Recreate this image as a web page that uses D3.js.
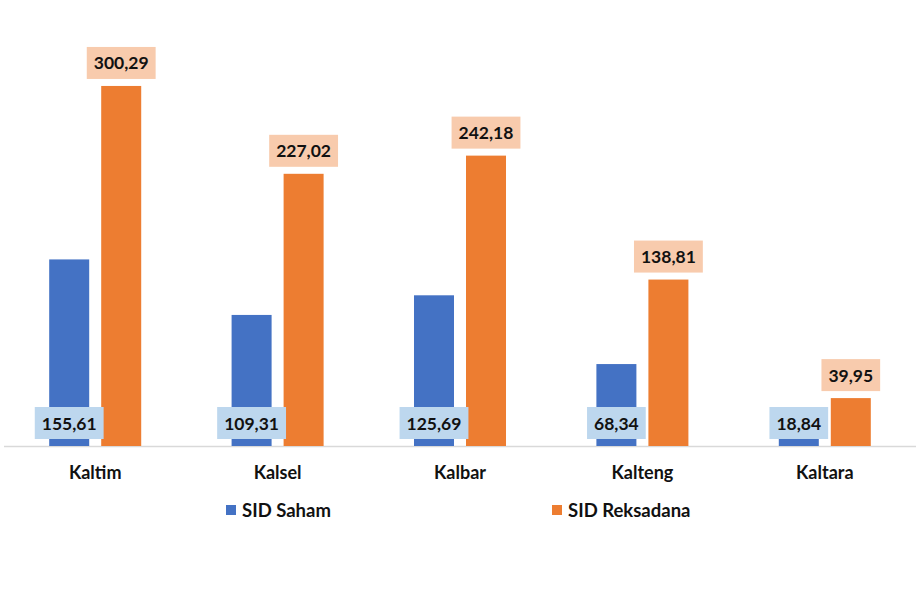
<!DOCTYPE html>
<html><head><meta charset="utf-8">
<script src="https://cdn.jsdelivr.net/npm/d3@7"></script>
<style>html,body{margin:0;padding:0;background:#fff;}svg{display:block;}</style>
</head><body>
<script>
const categories = ["Kaltim","Kalsel","Kalbar","Kalteng","Kaltara"];
const seriesNames = ["SID Saham","SID Reksadana"];
const sahamValues = [155.61,109.31,125.69,68.34,18.84];
const reksadanaValues = [300.29,227.02,242.18,138.81,39.95];
const valueLabels = [["155,61","109,31","125,69","68,34","18,84"],["300,29","227,02","242,18","138,81","39,95"]];
const colors = ["#4472C4","#ED7D31"];
const labelBg = ["#BDD7EE","#F8CBAD"];

const W=919,H=606;
const svg=d3.select("body").append("svg").attr("width",W).attr("height",H);
const font="Lato, 'Open Sans', sans-serif";
const x0=d3.scaleBand().domain(categories).range([4,916]);
const x1=d3.scaleBand().domain(seriesNames).range([0,x0.bandwidth()]).paddingInner(0.2308).paddingOuter(0.869);
const y=d3.scaleLinear().domain([0,350]).range([446,446-350*1.199]);
const series=[sahamValues,reksadanaValues];

// axis line
svg.append("line").attr("x1",x0.range()[0]).attr("x2",x0.range()[1]).attr("y1",y(0)+0.5).attr("y2",y(0)+0.5).attr("stroke","#d9d9d9").attr("stroke-width",1.5);

series.forEach((vals,si)=>{
  const g=svg.append("g");
  g.selectAll("rect").data(vals).join("rect")
    .attr("x",(d,i)=>x0(categories[i])+x1(seriesNames[si]))
    .attr("width",x1.bandwidth())
    .attr("y",d=>y(d)).attr("height",d=>y(0)-y(d))
    .attr("fill",colors[si]);
});

// labels
series.forEach((vals,si)=>{
  vals.forEach((v,i)=>{
    const cx=x0(categories[i])+x1(seriesNames[si])+x1.bandwidth()/2;
    const cy= si===0 ? y(0)-23 : y(v)-23;
    const t=svg.append("text").attr("x",cx).attr("y",cy).attr("text-anchor","middle").attr("dominant-baseline","central")
      .attr("font-family",font).attr("font-weight","bold").attr("font-size",17.5).attr("fill","#111").text(valueLabels[si][i]);
    const bb=t.node().getBBox();
    svg.insert("rect",()=>t.node()).attr("x",cx-(bb.width+14)/2).attr("y",cy-16).attr("width",bb.width+14).attr("height",32).attr("fill",labelBg[si]);
  });
});

// category labels
svg.selectAll("text.cat").data(categories).join("text").attr("class","cat")
  .attr("x",d=>x0(d)+x0.bandwidth()/2).attr("y",472).attr("text-anchor","middle").attr("dominant-baseline","central")
  .attr("font-family",font).attr("font-weight","bold").attr("font-size",18).attr("fill","#111").text(d=>d);

// legend
const legX=[226,552];
seriesNames.forEach((n,i)=>{
  svg.append("rect").attr("x",legX[i]).attr("y",505).attr("width",10).attr("height",10).attr("fill",colors[i]);
  svg.append("text").attr("x",legX[i]+16).attr("y",510).attr("dominant-baseline","central")
    .attr("font-family",font).attr("font-weight","bold").attr("font-size",18.5).attr("fill","#111").text(n);
});
</script>
</body></html>
